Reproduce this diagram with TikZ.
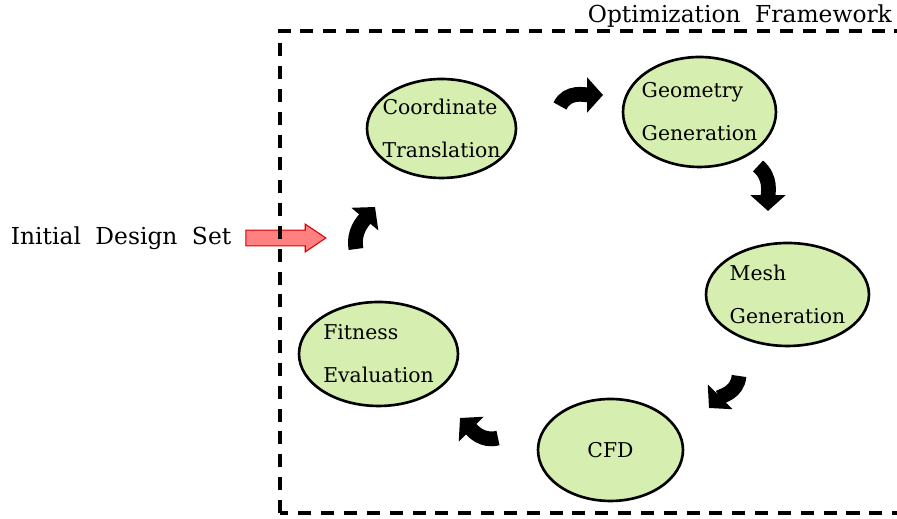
\documentclass[tikz,border=0pt]{standalone}
\usepackage{fontspec}
\setmainfont{DejaVu Serif}
\usepackage{tikz}
\usetikzlibrary{shapes,arrows.meta,positioning}

\definecolor{stagegreen}{RGB}{214,238,176}
\newcommand\tagfont{\fontsize{13.3}{16}\selectfont\spaceskip=0.62em plus 0.1em\relax}

\begin{document}
\begin{tikzpicture}[
    x=0.02cm, y=0.02cm,
    stage/.style={ellipse, draw, line width=1.5pt, fill=stagegreen, inner sep=-5pt, align=left, font=\fontsize{11.6}{24.4}\selectfont},
    turn/.style={line width=8.4pt, -{Triangle[length=9pt, width=19.5pt]}},
    tagtext/.style={font=\tagfont, inner sep=1pt},
    frame/.style={line width=2pt, dash pattern=on 7.4pt off 5.6pt}
]
\useasboundingbox (0,0) rectangle (897,519);

% stages of the loop
\node[stage, minimum width=2.98cm, minimum height=1.98cm] (coord) at (441.5,390.5) {Coordinate\\Translation};
\node[stage, minimum width=3.06cm, minimum height=2.2cm] (geom) at (699.5,407) {Geometry\\Generation};
\node[stage, minimum width=3.26cm, minimum height=2.06cm] (mesh) at (787.5,224.5) {Mesh\\Generation};
\node[stage, minimum width=2.9cm, minimum height=2.04cm] (cfd) at (610.5,69) {CFD};
\node[stage, minimum width=3.18cm, minimum height=2.08cm] (fit) at (378.5,165) {Fitness\\Evaluation};

% curved arrows between the stages
\coordinate (t1a) at (560,413);  \coordinate (t1b) at (603,424);
\coordinate (t2a) at (758,353);  \coordinate (t2b) at (768,308);
\coordinate (t3a) at (739,143);  \coordinate (t3b) at (709,111);
\coordinate (t4a) at (498,81);   \coordinate (t4b) at (460,101);
\coordinate (t5a) at (356,270);  \coordinate (t5b) at (375,312);
\draw[turn] (t1a) to[out=65, in=180] (t1b);
\draw[turn] (t2a) to[out=-40, in=90] (t2b);
\draw[turn] (t3a) to[out=-95, in=45] (t3b);
\draw[turn] (t4a) to[out=195, in=-45] (t4b);
\draw[turn] (t5a) to[out=100, in=230] (t5b);

% input
\node[single arrow, draw=red!85!black, fill=red!50, line width=0.6pt, inner xsep=0pt, inner ysep=4.2pt,
      minimum height=1.6cm, minimum width=0pt, single arrow head extend=0.12cm,
      single arrow tip angle=68] (inarrow) at (280,281) {};
\node[tagtext, left=0.24cm of inarrow] (init) {Initial Design Set};

% framework box
\begin{scope}
\clip (0,0) rectangle (897,519);
\draw[frame] (280,6) rectangle (910,488);
\end{scope}
\node[tagtext, anchor=base east] (fw) at (894,496) {Optimization Framework};

\end{tikzpicture}
\end{document}
